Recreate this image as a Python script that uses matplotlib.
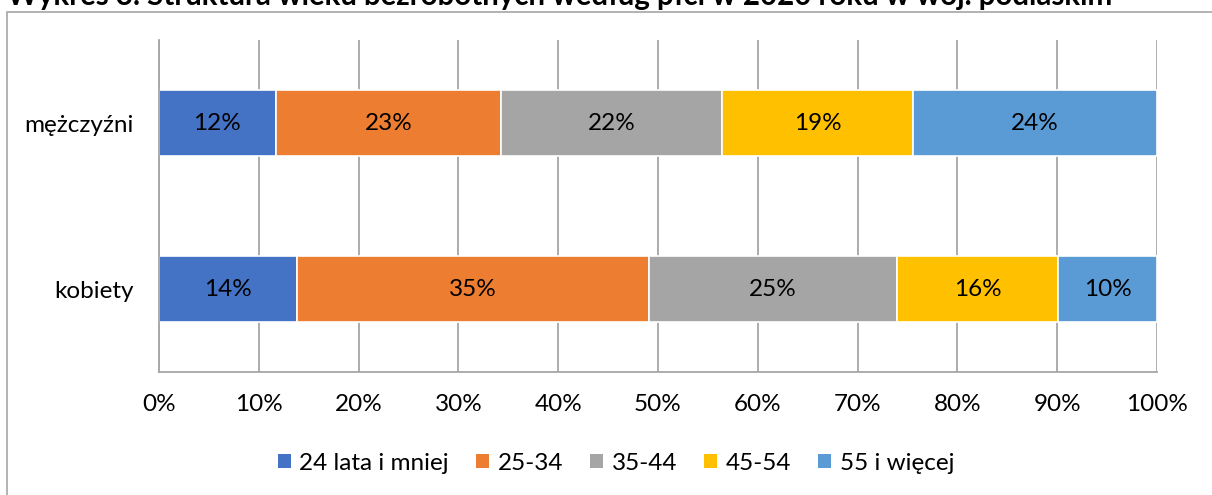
import matplotlib
matplotlib.use("Agg")
import matplotlib.pyplot as plt
from matplotlib.patches import Rectangle
import numpy as np

title = "Wykres 3. Struktura wieku bezrobotnych według płci w 2020 roku w woj. podlaskim"
categories = ["mężczyźni", "kobiety"]
series_names = ["24 lata i mniej", "25-34", "35-44", "45-54", "55 i więcej"]
men = [11.7, 22.6, 22.1, 19.2, 24.4]
women = [13.8, 35.3, 24.8, 16.2, 9.9]
labels_men = ["12%", "23%", "22%", "19%", "24%"]
labels_women = ["14%", "35%", "25%", "16%", "10%"]
colors = ["#4472C4", "#ED7D31", "#A5A5A5", "#FFC000", "#5B9BD5"]
xticks = [0, 10, 20, 30, 40, 50, 60, 70, 80, 90, 100]
xticklabels = [f"{t}%" for t in xticks]

plt.rcParams['font.family'] = ['Lato', 'DejaVu Sans']
FS = 17.5

W, H = 1212, 495
fig = plt.figure(figsize=(W / 100, H / 100), dpi=100)
ax = fig.add_axes([159 / W, 1 - 372 / H, (1157 - 159) / W, (372 - 40) / H])

# chart frame (cut off at right/bottom)
fig.patches.append(Rectangle((7 / W, -0.1), 1.2, 1 - 12 / H + 0.1, transform=fig.transFigure,
                             fill=False, edgecolor="#a6a6a6", linewidth=1.2))

data = [men, women]
labs = [labels_men, labels_women]
ypos = [0, 1]
for i, name in enumerate(series_names):
    vals = [d[i] for d in data]
    lefts = [sum(d[:i]) for d in data]
    bars = ax.barh(ypos, vals, left=lefts, height=0.393, color=colors[i],
                   edgecolor="white", linewidth=1.2, label=name, zorder=3)
    for b, lab in zip(bars, [l[i] for l in labs]):
        ax.text(b.get_x() + b.get_width() / 2, b.get_y() + b.get_height() / 2, lab,
                ha="center", va="center", fontsize=FS, color="black", zorder=4)

ax.set_xlim(0, 100)
ax.set_ylim(1.5, -0.5)
ax.set_yticks(ypos)
ax.set_yticklabels(categories, fontsize=FS)
ax.set_xticks(xticks)
ax.set_xticklabels(xticklabels, fontsize=FS)
ax.tick_params(axis="y", length=0, pad=18)
ax.tick_params(axis="x", length=0, pad=16)
ax.grid(axis="x", color="#a6a6a6", linewidth=1.3, zorder=0)
for s in ["top", "right"]:
    ax.spines[s].set_visible(False)
for s in ["left", "bottom"]:
    ax.spines[s].set_color("#a6a6a6")
    ax.spines[s].set_linewidth(1.3)
    ax.spines[s].set_zorder(5)

leg = fig.legend(loc="center", bbox_to_anchor=(616 / W, 1 - 463 / H), ncol=5,
                 frameon=False, fontsize=FS, handlelength=0.55, handleheight=0.55,
                 handletextpad=0.35, columnspacing=1.1)
for h in leg.legend_handles:
    h.set_edgecolor("none")

# title, fitted to reference width (7..1118 px), cut off at top as in the reference
t = fig.text(7 / W, 1 - 5 / H, title, fontsize=20, fontweight="bold", ha="left", va="baseline",
             family=["Lato", "DejaVu Sans"])
fig.canvas.draw()
w = t.get_window_extent().width
t.set_fontsize(20 * (1111 / w))

fig.savefig("out.png", dpi=100)
